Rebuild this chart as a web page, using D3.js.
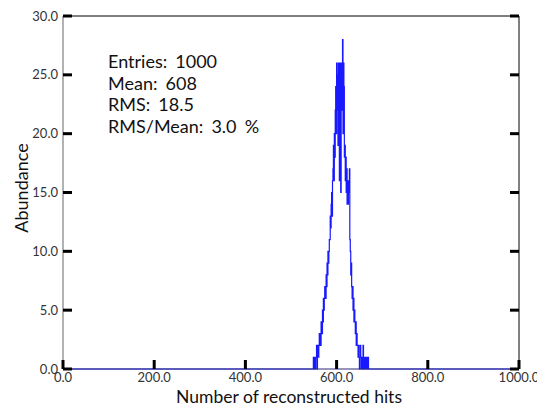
<!DOCTYPE html>
<html><head><meta charset="utf-8">
<script src="https://cdn.jsdelivr.net/npm/d3@7"></script>
<style>
body{margin:0;background:#fff;}
svg{display:block;}
text{font-family:Lato,"DejaVu Sans",sans-serif;}
</style></head>
<body><svg id="c" width="537" height="406"></svg>
<script>
// ---- data ----
const firstBin = 549;          // lower edge of first non-empty bin
const binWidth = 1;
const counts = [
 1,0,0,1,0,1,1,2,0,1, 2,1,2,3,2,3,2,4,4,3,
 5,4,6,5,6,7,7,6,8,7, 9,8,10,9,10,11,11,13,12,14,
 15,13,16,17,19,16,20,18,22,24, 20,26,22,25,19,26,23,16,26,24,
 15,26,22,25,28,20,26,24,18,19, 16,18,15,17,14,16,14,15,16,17,
 11,10,8,9,7,6,7,5,6,4, 5,4,3,4,2,3,2,2,1,2,
 1,0,1,2,1,0,1,1,0,2, 1,0,1,0,1,1,0,1,0,1,1
];
const xTicks = [0,200,400,600,800,1000];
const yTicks = [0,5,10,15,20,25,30];
const statLines = ["Entries: 1000","Mean: 608","RMS: 18.5","RMS/Mean: 3.0 %"];
const xTitle = "Number of reconstructed hits";
const yTitle = "Abundance";

// ---- layout ----
const L=63, R=519, T=16, B=369;
const svg = d3.select("#c");
const x = d3.scaleLinear().domain([0,1000]).range([L,R]);
const y = d3.scaleLinear().domain([0,30]).range([B,T]);

// full histogram 0..1000
const pts=[];
for(let v=0; v<1000; v+=binWidth){
  const i=v-firstBin;
  pts.push({e:v, c:(i>=0 && i<counts.length)?counts[i]:0});
}
pts.push({e:1000, c:0});

// spines
svg.append("line").attr("x1",L).attr("x2",R).attr("y1",T).attr("y2",T).attr("stroke","#000").attr("stroke-width",1);
svg.append("line").attr("x1",R).attr("x2",R).attr("y1",T).attr("y2",B).attr("stroke","#000").attr("stroke-width",1);
svg.append("line").attr("x1",L).attr("x2",L).attr("y1",T).attr("y2",B).attr("stroke","#666").attr("stroke-width",1);

// histogram
const line = d3.line().x(d=>x(d.e)).y(d=>y(d.c)).curve(d3.curveStepAfter);
svg.append("path").datum(pts).attr("d",line).attr("fill","none")
  .attr("stroke","#0000ff").attr("stroke-width",1.2).attr("stroke-opacity",0.9);
svg.append("line").attr("x1",L).attr("x2",R).attr("y1",B).attr("y2",B).attr("stroke","#2b2b7a").attr("stroke-width",1.2);

// ticks
const tl=9, tw=3;
const g=svg.append("g");
xTicks.forEach(t=>{
  g.append("line").attr("x1",x(t)).attr("x2",x(t)).attr("y1",B).attr("y2",B-tl).attr("stroke","#000").attr("stroke-width",tw);
  g.append("text").attr("x",x(t)).attr("y",B+13).attr("text-anchor","middle")
   .attr("font-size",13).attr("fill","#333").text(t.toFixed(1));
});
yTicks.forEach(t=>{
  g.append("line").attr("x1",L).attr("x2",L+tl).attr("y1",y(t)).attr("y2",y(t)).attr("stroke","#000").attr("stroke-width",tw);
  g.append("line").attr("x1",R-tl).attr("x2",R).attr("y1",y(t)).attr("y2",y(t)).attr("stroke","#000").attr("stroke-width",tw);
  g.append("text").attr("x",L-5).attr("y",y(t)+4.5).attr("text-anchor","end")
   .attr("font-size",13).attr("fill","#333").text(t.toFixed(1));
});

// titles
svg.append("text").attr("x",289).attr("y",403).attr("text-anchor","middle")
  .attr("font-size",17.5).attr("fill","#111").text(xTitle);
svg.append("text").attr("transform",`translate(28,188) rotate(-90)`).attr("text-anchor","middle")
  .attr("font-size",18).attr("fill","#111").text(yTitle);

// stats box
statLines.forEach((s,i)=>{
  svg.append("text").attr("x",108).attr("y",68+i*21.7).attr("font-size",18)
    .attr("word-spacing",3.5).attr("fill","#111").text(s);
});
</script></body></html>
